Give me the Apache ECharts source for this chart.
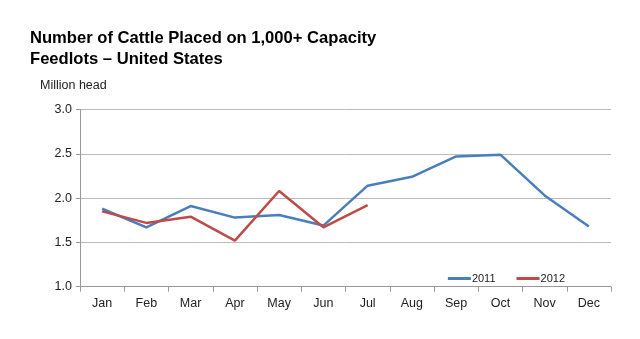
<!DOCTYPE html>
<html><head><meta charset="utf-8">
<script src="https://cdn.jsdelivr.net/npm/echarts@6/dist/echarts.min.js"></script>
<style>html,body{margin:0;padding:0;background:#fff}#c{width:640px;height:339px}</style>
</head><body><div id="c"></div>
<script>
var months = ['Jan','Feb','Mar','Apr','May','Jun','Jul','Aug','Sep','Oct','Nov','Dec'];
var s2011 = [1.88,1.67,1.91,1.78,1.81,1.69,2.14,2.24,2.47,2.49,2.03,1.68];
var s2012 = [1.85,1.72,1.79,1.52,2.08,1.67,1.92];
var yTicks = [1.0,1.5,2.0,2.5,3.0];
var chart = echarts.init(document.getElementById('c'), null, {renderer:'canvas'});
var font = 'Liberation Sans, Arial, sans-serif';
chart.setOption({
  animation:false,
  backgroundColor:'#fff',
  title:{text:'Number of Cattle Placed on 1,000+ Capacity\nFeedlots \u2013 United States', left:25, top:23,
    textStyle:{fontFamily:font,fontSize:16.6,fontWeight:'bold',color:'#000',lineHeight:21}},
  legend:{right:70, top:268, itemWidth:23, itemHeight:3, itemGap:21, icon:'rect',
    textStyle:{fontFamily:font,fontSize:11,color:'#222',padding:[0,0,0,-4]},
    data:['2011','2012']},
  grid:{left:80,right:29,top:109.5,bottom:52.3},
  xAxis:{type:'category',data:months,boundaryGap:true,
    axisLine:{lineStyle:{color:'#999'}},
    axisTick:{show:true,length:5,lineStyle:{color:'#999'}},
    axisLabel:{fontFamily:font,fontSize:12.5,color:'#222',margin:10}},
  yAxis:{type:'value',min:yTicks[0],max:yTicks[yTicks.length-1],interval:0.5,
    name:'Million head',nameLocation:'end',nameGap:17,
    nameTextStyle:{fontFamily:font,fontSize:12.5,color:'#222',align:'left',padding:[0,0,0,-40]},
    axisLine:{show:true,lineStyle:{color:'#999'}},
    axisTick:{show:true,length:4,lineStyle:{color:'#999'}},
    splitLine:{lineStyle:{color:'#bbb'}},
    axisLabel:{fontFamily:font,fontSize:12.5,color:'#222',margin:8,formatter:function(v){return v.toFixed(1);}}},
  series:[
    {name:'2011',type:'line',data:s2011,symbol:'none',lineStyle:{width:2.5,color:'#4a7ebb'},itemStyle:{color:'#4a7ebb'}},
    {name:'2012',type:'line',data:s2012,symbol:'none',lineStyle:{width:2.5,color:'#be4b48'},itemStyle:{color:'#be4b48'}}
  ]
});
</script></body></html>
